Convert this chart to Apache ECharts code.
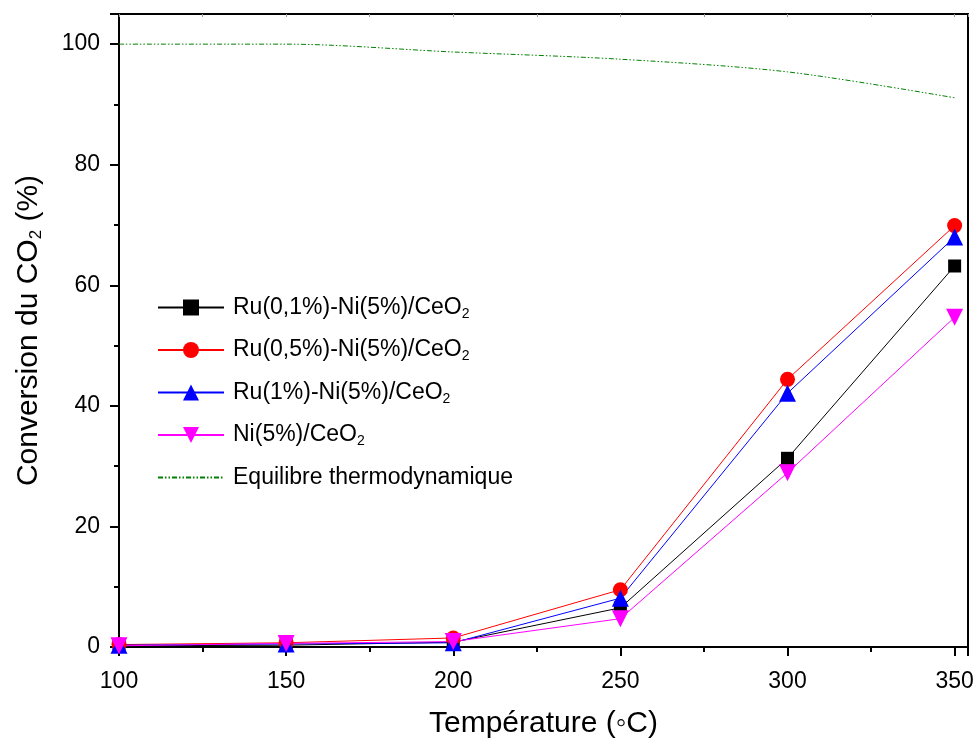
<!DOCTYPE html>
<html>
<head>
<meta charset="utf-8">
<script src="https://cdn.jsdelivr.net/npm/echarts@6/dist/echarts.min.js"></script>
<style>
  html, body { margin: 0; padding: 0; background: #fff; }
  #main { width: 976px; height: 740px; }
</style>
</head>
<body>
<div id="main"></div>
<script>
// temperatures (°C)
const temps = [100, 150, 200, 250, 300, 350]
// CO2 conversion (%)
const ru01 = [0.2, 0.3, 0.8, 6.5, 31.3, 63.2]
const ru05 = [0.4, 0.7, 1.5, 9.5, 44.4, 69.9]
const ru1 = [0.3, 0.5, 0.7, 8.1, 42.1, 68.0]
const ni5 = [0.2, 0.6, 0.9, 4.7, 28.9, 54.7]
const equilibre = [100, 100, 98.7, 97.5, 95.4, 91.1]

const pairs = (ys) => temps.map((t, i) => [t, ys[i]])

const chart = echarts.init(document.getElementById('main'))
const font = 'Liberation Sans, Arial, sans-serif'

const legendRich = {
  g: { width: 4 },
  n: { fontSize: 23, fontFamily: font, color: '#000' },
  s: { fontSize: 14, fontFamily: font, color: '#000', padding: [13, 0, 0, 0] }
}

chart.setOption({
  animation: false,
  grid: {
    left: 119, top: 14, right: 8, bottom: 93,
    containLabel: false, outerBoundsMode: 'none',
    show: true, borderColor: '#000', borderWidth: 2
  },
  legend: {
    orient: 'vertical',
    left: 157, top: 296, padding: 0,
    itemWidth: 66, itemHeight: 20, itemGap: 17.5,
    textStyle: { rich: legendRich },
    formatter: (name) => {
      if (name.endsWith('CeO2')) return '{g|}{n|' + name.slice(0, -1) + '}{s|2}'
      return '{g|}{n|' + name + '}'
    },
    data: [
      'Ru(0,1%)-Ni(5%)/CeO2', 'Ru(0,5%)-Ni(5%)/CeO2', 'Ru(1%)-Ni(5%)/CeO2', 'Ni(5%)/CeO2',
      { name: 'Equilibre thermodynamique', itemStyle: { opacity: 0 } }
    ]
  },
  xAxis: [{
    type: 'value', min: 100, max: 354, interval: 50,
    name: 'Température (\u25E6C)', nameLocation: 'middle', nameGap: 62,
    nameTextStyle: { fontSize: 30, fontFamily: font, color: '#000' },
    axisLine: { lineStyle: { color: '#000', width: 2 } },
    axisTick: { length: 9, lineStyle: { color: '#000', width: 2 } },
    minorTick: { show: true, splitNumber: 2, length: 5, lineStyle: { color: '#000', width: 2 } },
    axisLabel: { fontSize: 23, fontFamily: font, color: '#000', margin: 23,
      formatter: (v) => temps.includes(v) ? String(v) : '' },
    splitLine: { show: false }
  }, {
    type: 'value', position: 'top', min: 100, max: 354, interval: 25,
    axisLine: { show: false },
    axisTick: { inside: true, length: 3, lineStyle: { color: '#999', width: 1 } },
    axisLabel: { show: false },
    splitLine: { show: false }
  }],
  yAxis: {
    type: 'value', min: 0, max: 105, interval: 20,
    name: '{n|Conversion du CO}{s|2}{n| (%)}', nameLocation: 'middle', nameGap: 74,
    nameTextStyle: {
      rich: {
        n: { fontSize: 30, fontFamily: font, color: '#000' },
        s: { fontSize: 17, fontFamily: font, color: '#000', padding: [16, 0, 0, 0] }
      }
    },
    axisLine: { lineStyle: { color: '#000', width: 2 } },
    axisTick: { length: 9, lineStyle: { color: '#000', width: 2 } },
    minorTick: { show: true, splitNumber: 2, length: 5, lineStyle: { color: '#000', width: 2 } },
    axisLabel: { fontSize: 23, fontFamily: font, color: '#000', margin: 19,
      formatter: (v) => v <= 100 ? String(v) : '' },
    splitLine: { show: false }
  },
  series: [
    {
      name: 'Ru(0,1%)-Ni(5%)/CeO2', type: 'line', data: pairs(ru01),
      symbol: 'rect', symbolSize: 13,
      lineStyle: { color: '#000', width: 1 }, itemStyle: { color: '#000' }
    },
    {
      name: 'Ru(0,5%)-Ni(5%)/CeO2', type: 'line', data: pairs(ru05),
      symbol: 'circle', symbolSize: 15,
      lineStyle: { color: '#ff0000', width: 1 }, itemStyle: { color: '#ff0000' }
    },
    {
      name: 'Ru(1%)-Ni(5%)/CeO2', type: 'line', data: pairs(ru1),
      symbol: 'triangle', symbolSize: 17,
      lineStyle: { color: '#0000ff', width: 1 }, itemStyle: { color: '#0000ff' }
    },
    {
      name: 'Ni(5%)/CeO2', type: 'line', data: pairs(ni5),
      symbol: 'triangle', symbolRotate: 180, symbolSize: 17,
      lineStyle: { color: '#ff00ff', width: 1 }, itemStyle: { color: '#ff00ff' }
    },
    {
      name: 'Equilibre thermodynamique', type: 'line', data: pairs(equilibre),
      symbol: 'none', smooth: 0.3,
      lineStyle: { color: '#008000', width: 1, type: [5, 2, 1.5, 2, 1.5, 2] },
      itemStyle: { color: '#008000' }
    }
  ]
})
</script>
</body>
</html>
